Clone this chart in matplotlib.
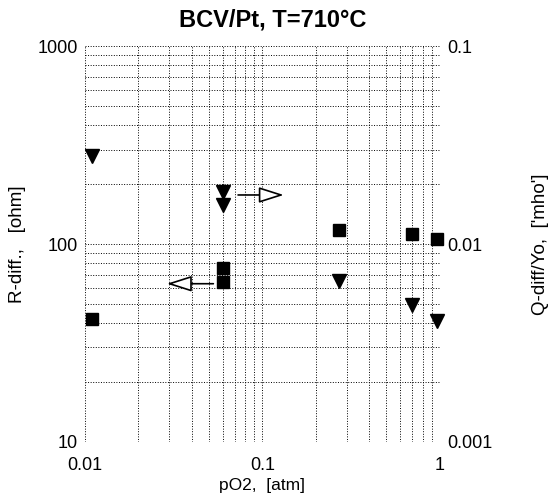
import matplotlib
matplotlib.use("Agg")
import matplotlib.pyplot as plt
from matplotlib.ticker import LogLocator, FixedLocator, NullFormatter

plt.rcParams['font.family'] = ['Liberation Sans', 'DejaVu Sans']

# --- data ---
po2 = [0.011, 0.06, 0.06, 0.27, 0.70, 0.96]
r_diff = [42, 76, 64, 118, 112, 106]           # squares, left axis [ohm]
q_po2 = [0.011, 0.06, 0.06, 0.27, 0.70, 0.96]
q_diff = [0.028, 0.0183, 0.0158, 0.0065, 0.0049, 0.0041]   # triangles, right axis

# arrow annotations (start, end) in data coords of the left axis
arrow_right = ((0.073, 177), (0.132, 177))
arrow_left = ((0.053, 63), (0.029, 63))

fig = plt.figure(figsize=(5.54, 4.97), dpi=100)
ax = fig.add_axes([0.153, 0.111, 0.641, 0.796])
ax2 = ax.twinx()

ax.set_xscale('log')
ax.set_yscale('log')
ax2.set_yscale('log')
ax.set_xlim(0.01, 1)
ax.set_ylim(10, 1000)
ax2.set_ylim(0.001, 0.1)

ax.plot(po2, r_diff, 's', color='black', markersize=8.5, zorder=5, clip_on=False)
ax2.plot(q_po2, q_diff, 'v', color='black', markersize=9.5, zorder=5, clip_on=False)

for (x0, y0), (x1, y1) in (arrow_right, arrow_left):
    ax.annotate('', xy=(x1, y1), xytext=(x0, y0),
                arrowprops=dict(arrowstyle='-|>,head_length=1.1,head_width=0.35',
                                fc='white', ec='black', lw=1.2,
                                mutation_scale=14, shrinkA=0, shrinkB=0))

# grid: dotted major and minor lines
ax.xaxis.set_major_locator(FixedLocator([0.01, 0.1, 1]))
ax.xaxis.set_minor_locator(LogLocator(base=10, subs=range(2, 10)))
ax.yaxis.set_major_locator(FixedLocator([10, 100, 1000]))
ax.yaxis.set_minor_locator(LogLocator(base=10, subs=range(2, 10)))
ax.xaxis.set_minor_formatter(NullFormatter())
ax.yaxis.set_minor_formatter(NullFormatter())
ax.set_xticklabels(['0.01', '0.1', '1'])
ax.set_yticklabels(['10', '100', '1000'])
ax2.yaxis.set_major_locator(FixedLocator([0.001, 0.01, 0.1]))
ax2.yaxis.set_minor_locator(FixedLocator([]))
ax2.set_yticklabels(['0.001', '0.01', '0.1'])

ax.grid(True, which='both', color='black', linestyle=':', linewidth=0.7)
for a in (ax, ax2):
    a.tick_params(which='both', length=0, labelsize=13, pad=5)
    for s in a.spines.values():
        s.set_visible(False)
ax.tick_params(axis='x', pad=11)

ax.set_title('BCV/Pt, T=710°C', fontsize=17, fontweight='bold', pad=14, x=0.53)
ax.set_xlabel('pO2,  [atm]', fontsize=12.5, labelpad=3)
ax.set_ylabel('R-diff.,   [ohm]', fontsize=13.5, labelpad=8)
ax2.set_ylabel("Q-diff/Yo,  ['mho']", fontsize=13.5, labelpad=29)

fig.savefig('out.png', dpi=100)
